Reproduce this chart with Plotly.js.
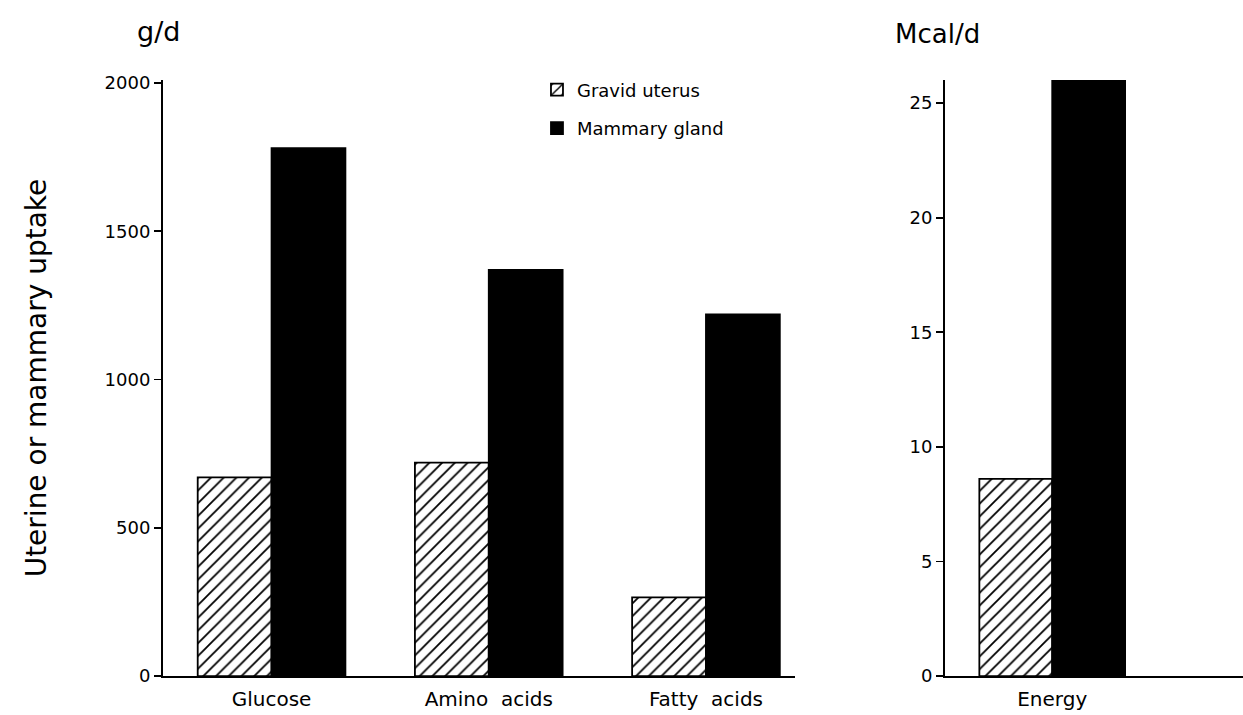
<!DOCTYPE html>
<html>
<head>
<meta charset="utf-8">
<script src="https://cdn.plot.ly/plotly-3.0.1.min.js"></script>
<style>html,body{margin:0;padding:0;background:#fff;}#chart{width:1243px;height:715px;}</style>
</head>
<body>
<div id="chart"></div>
<script>
// Data
const nutrientCategories = ["Glucose", "Amino  acids", "Fatty  acids"];
const uterusNutrients = [670, 720, 265];
const mammaryNutrients = [1780, 1370, 1220];
const energyCategories = ["Energy"];
const uterusEnergy = [8.6];
const mammaryEnergy = [26];
const seriesNames = ["Gravid uterus", "Mammary gland"];
const leftTicks = [0, 500, 1000, 1500, 2000];
const rightTicks = [0, 5, 10, 15, 20, 25];

const FONT = "DejaVu Sans, sans-serif";
const hatch = {shape: "/", fgcolor: "#000", bgcolor: "#fff", size: 9, solidity: 0.2};
const lineStyle = {color: "#000", width: 1.8};

const traces = [
  {type: "bar", name: seriesNames[0], x: nutrientCategories, y: uterusNutrients,
   xaxis: "x", yaxis: "y", marker: {color: "#fff", pattern: hatch, line: lineStyle}, legendgroup: "u"},
  {type: "bar", name: seriesNames[1], x: nutrientCategories, y: mammaryNutrients,
   xaxis: "x", yaxis: "y", marker: {color: "#000", line: lineStyle}, legendgroup: "m"},
  {type: "bar", name: seriesNames[0], x: energyCategories, y: uterusEnergy, showlegend: false,
   xaxis: "x2", yaxis: "y2", marker: {color: "#fff", pattern: hatch, line: lineStyle}, legendgroup: "u"},
  {type: "bar", name: seriesNames[1], x: energyCategories, y: mammaryEnergy, showlegend: false,
   xaxis: "x2", yaxis: "y2", marker: {color: "#000", line: lineStyle}, legendgroup: "m"}
];

const axisCommon = {
  showline: true, linecolor: "#000", linewidth: 2, showgrid: false, zeroline: false,
  tickfont: {family: FONT, size: 18, color: "#000"}
};
const catFont = {family: FONT, size: 20, color: "#000"};

const layout = {
  width: 1243, height: 715,
  margin: {l: 0, r: 0, t: 0, b: 0},
  paper_bgcolor: "#fff", plot_bgcolor: "#fff",
  font: {family: FONT, color: "#000"},
  barmode: "group", bargap: 0.32, bargroupgap: 0,
  showlegend: true,
  legend: {x: 0.432, y: 0.9, xanchor: "left", yanchor: "top", bgcolor: "rgba(0,0,0,0)",
           font: {family: FONT, size: 18, color: "#000"}, itemwidth: 30, tracegroupgap: 12},
  xaxis: Object.assign({}, axisCommon, {domain: [0.1311, 0.6396], range: [-0.5, 2.41], ticks: "",
          type: "category", ticklabelstandoff: 4, tickfont: catFont}),
  yaxis: Object.assign({}, axisCommon, {domain: [0.0545, 0.888], range: [0, 2010], tickvals: leftTicks,
          ticks: "outside", ticklen: 7, tickwidth: 1.8, tickcolor: "#000",
          title: {text: "Uterine or mammary uptake", standoff: 50, font: {family: FONT, size: 28, color: "#000"}}}),
  xaxis2: Object.assign({}, axisCommon, {domain: [0.7603, 1], range: [-0.5, 0.89], ticks: "",
          type: "category", ticklabelstandoff: 4, anchor: "y2", tickfont: catFont}),
  yaxis2: Object.assign({}, axisCommon, {domain: [0.0545, 0.888], range: [0, 26], tickvals: rightTicks,
          ticks: "outside", ticklen: 7, tickwidth: 1.8, tickcolor: "#000", anchor: "x2"}),
  annotations: [
    {text: "g/d", xref: "paper", yref: "paper", x: 158/1243, y: 1 - 32/715, xanchor: "center", yanchor: "middle",
     showarrow: false, font: {family: FONT, size: 27, color: "#000"}},
    {text: "Mcal/d", xref: "paper", yref: "paper", x: 893/1243, y: 1 - 34/715, xanchor: "left", yanchor: "middle",
     showarrow: false, font: {family: FONT, size: 26, color: "#000"}}
  ]
};

Plotly.newPlot("chart", traces, layout, {displayModeBar: false, staticPlot: true});
</script>
</body>
</html>
